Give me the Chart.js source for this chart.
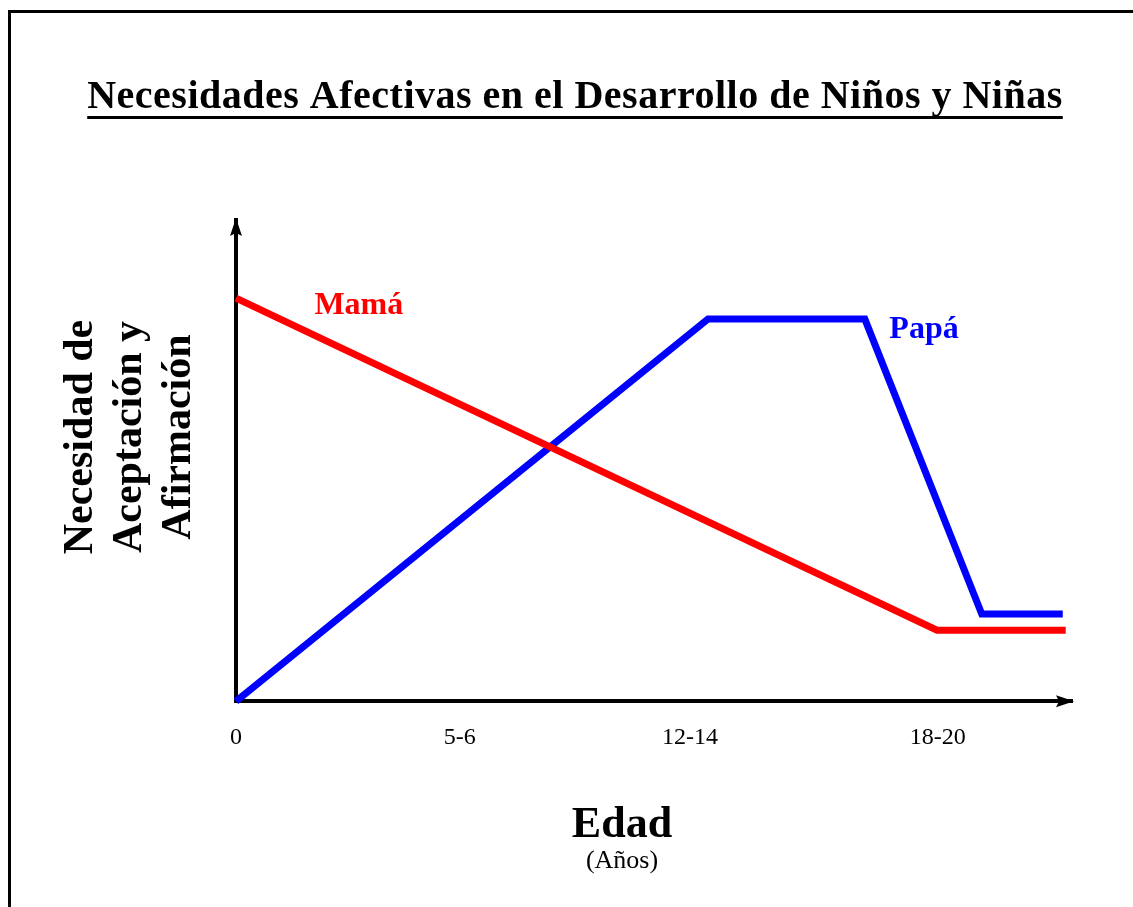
<!DOCTYPE html>
<html>
<head>
<meta charset="utf-8">
<title>Necesidades Afectivas</title>
<script src="https://cdn.jsdelivr.net/npm/chart.js@4.4.1/dist/chart.umd.min.js"></script>
<style>
  html, body { margin: 0; padding: 0; background: #fff; }
  body { width: 1133px; height: 907px; overflow: hidden; position: relative; }
  #frame { position: absolute; left: 8px; top: 10px; right: -20px; bottom: -20px; border: 3px solid #000; }
  #chart { position: absolute; left: 0; top: 0; }
</style>
</head>
<body>
<div id="frame"></div>
<canvas id="chart" width="1133" height="907"></canvas>
<script>
// x in "age units" of the drawing, y in need level (0-100)
const xTickValues = [0, 6.05, 12.27, 18.97];
const xTickLabels = ['0', '5-6', '12-14', '18-20'];

const mamaX = [0, 18.95, 22.43];
const mamaY = [84.6, 14.9, 14.9];

const papaX = [0, 12.76, 17.0, 20.16, 22.35];
const papaY = [0, 80.2, 80.2, 18.3, 18.3];

const seriesNames = ['Mamá', 'Papá'];
const seriesColors = ['#ff0000', '#0000ff'];
// where the series names sit (data units)
const nameX = [3.32, 18.6];
const nameY = [81.2, 76.2];

const xMax = 22.6;
const yMax = 101;

const titleText = 'Necesidades Afectivas en el Desarrollo de Niños y Niñas';
const yTitleLines = ['Necesidad de', 'Aceptación y', 'Afirmación'];
const xTitle = 'Edad';
const xSubTitle = '(Años)';

const serif = '"Liberation Serif", "Times New Roman", serif';

const toPoints = (xs, ys) => xs.map((x, i) => ({ x: x, y: ys[i] }));

// arrows, titles and series names
const decorations = {
  id: 'decorations',
  afterDraw(chart) {
    const ctx = chart.ctx;
    const area = chart.chartArea;
    const xs = chart.scales.x;
    const ys = chart.scales.y;
    ctx.save();

    // arrow heads
    ctx.fillStyle = '#000';
    ctx.beginPath();
    ctx.moveTo(area.right + 2, area.bottom);
    ctx.lineTo(area.right - 16, area.bottom - 6);
    ctx.lineTo(area.right - 13, area.bottom);
    ctx.lineTo(area.right - 16, area.bottom + 6);
    ctx.closePath();
    ctx.fill();
    ctx.beginPath();
    ctx.moveTo(area.left, area.top - 2);
    ctx.lineTo(area.left - 6, area.top + 16);
    ctx.lineTo(area.left, area.top + 13);
    ctx.lineTo(area.left + 6, area.top + 16);
    ctx.closePath();
    ctx.fill();

    // title, underlined
    ctx.font = 'bold 40px ' + serif;
    ctx.letterSpacing = '0.5px';
    ctx.textAlign = 'center';
    ctx.textBaseline = 'alphabetic';
    const tx = 575, ty = 108;
    ctx.fillText(titleText, tx, ty);
    const tw = ctx.measureText(titleText).width;
    ctx.fillRect(tx - tw / 2, ty + 8, tw, 3);
    ctx.letterSpacing = '0px';

    // series names
    ctx.font = 'bold 32px ' + serif;
    seriesNames.forEach((name, i) => {
      ctx.fillStyle = seriesColors[i];
      ctx.fillText(name, xs.getPixelForValue(nameX[i]), ys.getPixelForValue(nameY[i]));
    });

    // y title, rotated
    ctx.fillStyle = '#000';
    ctx.font = 'bold 42px ' + serif;
    const baseX = [92, 141, 190];
    yTitleLines.forEach((line, i) => {
      ctx.save();
      ctx.translate(baseX[i], 437);
      ctx.rotate(-Math.PI / 2);
      ctx.fillText(line, 0, 0);
      ctx.restore();
    });

    // x title
    ctx.font = 'bold 44px ' + serif;
    ctx.fillText(xTitle, 622, 837);
    ctx.font = '26px ' + serif;
    ctx.fillText(xSubTitle, 622, 868);

    ctx.restore();
  }
};

new Chart(document.getElementById('chart'), {
  type: 'line',
  data: {
    datasets: [
      {
        label: seriesNames[0],
        data: toPoints(mamaX, mamaY),
        borderColor: seriesColors[0],
        borderWidth: 7,
        pointRadius: 0,
        tension: 0,
        fill: false,
        clip: false,
        borderJoinStyle: 'miter'
      },
      {
        label: seriesNames[1],
        data: toPoints(papaX, papaY),
        borderColor: seriesColors[1],
        borderWidth: 7,
        pointRadius: 0,
        tension: 0,
        fill: false,
        clip: false,
        borderJoinStyle: 'miter'
      }
    ]
  },
  options: {
    responsive: false,
    animation: false,
    layout: { padding: { left: 236, right: 61, top: 220, bottom: 133 } },
    plugins: {
      legend: { display: false },
      tooltip: { enabled: false },
      title: { display: false }
    },
    scales: {
      x: {
        type: 'linear',
        min: 0,
        max: xMax,
        grid: { display: false, drawTicks: false },
        border: { display: true, color: '#000', width: 4 },
        afterBuildTicks: (scale) => {
          scale.ticks = xTickValues.map(v => ({ value: v }));
        },
        ticks: {
          color: '#000',
          font: { family: serif, size: 24 },
          padding: 22,
          maxRotation: 0,
          autoSkip: false,
          callback: (value, index) => xTickLabels[index]
        }
      },
      y: {
        type: 'linear',
        min: 0,
        max: yMax,
        grid: { display: false, drawTicks: false },
        border: { display: true, color: '#000', width: 4 },
        ticks: { display: false }
      }
    }
  },
  plugins: [decorations]
});
</script>
</body>
</html>
